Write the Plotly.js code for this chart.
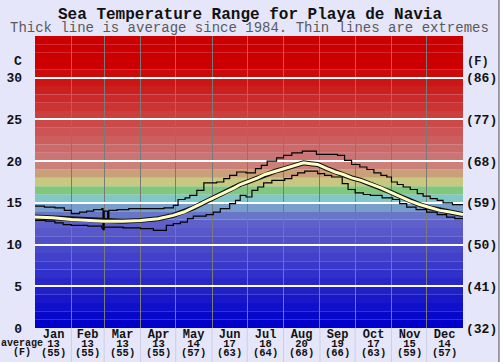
<!DOCTYPE html>
<html><head><meta charset="utf-8">
<script src="https://cdn.plot.ly/plotly-3.0.1.min.js"></script>
<style>html,body{margin:0;padding:0;background:#e6e6fa;}#chart{width:500px;height:362px;}</style>
</head><body><div id="chart"></div>
<script>
// ---- data ----
const months = ['Jan','Feb','Mar','Apr','May','Jun','Jul','Aug','Sep','Oct','Nov','Dec'];
const monthCenters = [15.5,45,74.5,105,135.5,166,196.5,227.5,258,288.5,319,349.5];
const monthStarts = [31,59,90,120,151,181,212,243,273,304,334];
const avgC = [13,13,13,13,14,17,18,20,19,17,15,14];
const avgF = [55,55,55,55,57,63,64,68,66,63,59,57];
const cTicks = [0,5,10,15,20,25,30];
const fTicks = [32,41,50,59,68,77,86];

const maxDays = [0,8,17,25,31,38,44,50,57,58,59,62,63,70,80,90,100,110,118,122,128,132,138,144,150,155,161,166,172,180,188,193,198,206,212,219,228,235,240,250,258,264,270,277,283,289,295,300,304,309,314,320,326,331,337,343,348,356,365];
const maxVals = [14.6,14.5,14.4,14.1,13.7,13.9,14.0,14.2,14.3,12.2,14.0,13.2,14.1,14.2,14.3,14.3,14.3,14.4,14.7,15.4,15.6,15.9,16.5,17.4,17.4,17.5,17.9,18.3,18.7,18.6,19.1,19.5,20.0,20.4,20.7,21.0,21.2,21.2,20.8,20.8,20.7,20.1,19.6,19.3,19.0,18.6,18.3,18.1,17.5,17.2,16.9,16.6,16.1,15.8,15.5,15.3,15.0,14.8,14.7];

const minDays = [0,9,17,24,31,45,57,58,59,75,90,101,112,118,124,130,135,146,152,158,166,171,175,180,185,190,195,202,213,219,224,230,241,247,253,262,267,273,280,286,296,305,311,317,325,334,343,351,358,365];
const minVals = [12.9,12.8,12.6,12.4,12.3,12.2,12.0,11.8,12.1,12.0,11.9,11.7,12.3,12.5,12.7,13.1,13.4,13.6,13.9,14.3,14.9,15.3,15.9,15.7,16.5,16.9,17.4,17.7,17.9,18.3,18.6,18.8,18.5,18.3,18.1,17.3,16.6,16.2,16.0,15.9,15.6,15.4,14.9,14.5,14.2,13.9,13.6,13.3,13.1,13.0];

const avgDays = [0,15,31,45,59,75,90,105,118,127,135,142,149,157,164,170,175,183,190,196,205,213,221,229,235,241,249,256,263,270,278,286,295,303,311,320,328,337,345,354,365];
const avgVals = [13.3,13.2,13.0,12.9,12.8,12.8,12.9,13.1,13.5,13.9,14.4,14.9,15.4,15.9,16.4,16.8,17.2,17.6,18.0,18.4,18.8,19.1,19.5,19.8,19.7,19.6,19.1,18.7,18.4,18.0,17.7,17.3,16.8,16.3,15.8,15.2,14.8,14.4,14.1,13.9,13.6];

// ---- styles ----
const FONT = 'Liberation Mono, DejaVu Sans Mono, monospace';
const INK = '#111';
function bandColor(t){
  if (t <= 12) { const v = Math.round(t*8); return `rgb(${v},${v},202)`; }
  const fixed = {13:'rgb(104,118,202)',14:'rgb(120,158,202)',15:'rgb(128,200,200)',16:'rgb(128,200,128)',17:'rgb(200,200,128)',18:'rgb(202,160,122)',19:'rgb(204,128,122)'};
  if (fixed[t]) return fixed[t];
  const g = Math.max(0, Math.round(115*(31-t)/11));
  return `rgb(204,${g},${g})`;
}
const shapes = [];
for (let t = 0; t < 35; t++) {
  shapes.push({type:'rect', xref:'x', yref:'y', x0:0, x1:365, y0:t, y1:t+1, layer:'below',
    fillcolor: bandColor(t), line:{width:0}});
}
monthStarts.forEach(d => shapes.push({type:'line', xref:'x', yref:'paper', x0:d, x1:d, y0:0, y1:-0.12,
  line:{color:'#cdcde4', width:1}}));
shapes.push({type:'line', xref:'paper', yref:'paper', x0:1.084, x1:1.084, y0:-0.2, y1:1.2, line:{color:'#555', width:1}});

const traces = [
  {x:maxDays, y:maxVals, type:'scatter', mode:'lines', line:{color:'#000', width:1.2, shape:'hv'}, hoverinfo:'skip'},
  {x:minDays, y:minVals, type:'scatter', mode:'lines', line:{color:'#000', width:1.2, shape:'hv'}, hoverinfo:'skip'},
  {x:avgDays, y:avgVals, type:'scatter', mode:'lines', line:{color:'#111', width:5}, hoverinfo:'skip'},
  {x:avgDays, y:avgVals, type:'scatter', mode:'lines', line:{color:'#ffffc4', width:3}, hoverinfo:'skip'},
  {x:[null], y:[null], yaxis:'y2', type:'scatter', mode:'lines', hoverinfo:'skip'}
];

const rowY = r => (328 - r) / 292;   // pixel row -> paper y
const sp = (px, s) => `<span style="font-size:${px}px"><b>${s}</b></span>`;
const annotations = [
  {text:'Thick line is average since 1984. Thin lines are extremes', xref:'paper', yref:'paper', x:0.5, y:1.0274,
   xanchor:'center', yanchor:'middle', showarrow:false, font:{family:FONT, size:14, color:'#5a5a5a'}},
  {text:'<b>C</b>', xref:'paper', yref:'paper', x:-0.04, y:rowY(61), xanchor:'center', yanchor:'middle', showarrow:false, font:{family:FONT, size:13, color:INK}},
  {text:'<b>(F)</b>', xref:'paper', yref:'paper', x:(478-35)/428, y:rowY(62), xanchor:'center', yanchor:'middle', showarrow:false, font:{family:FONT, size:12, color:INK}},
  {text: sp(10,'average') + '<br>' + sp(10,'(F)'), xref:'paper', yref:'paper', x:(22-35)/428, y:rowY(347.5),
   xanchor:'center', yanchor:'middle', showarrow:false, borderpad:0, font:{family:FONT, size:7, color:INK}}
];
months.forEach((m,i) => {
  annotations.push({text: sp(12,m) + '<br>' + sp(10.5, avgC[i]) + '<br>' + sp(10.5, '('+avgF[i]+')'),
    xref:'x', yref:'paper', x:monthCenters[i], y:rowY(343), xanchor:'center', yanchor:'middle',
    showarrow:false, borderpad:0, font:{family:FONT, size:7, color:INK}});
});

const layout = {
  width:500, height:362,
  margin:{l:35, r:37, t:36, b:34, pad:0},
  paper_bgcolor:'#e6e6fa', plot_bgcolor:'rgba(0,0,0,0)',
  showlegend:false,
  title:{text:'<b>Sea Temperature Range for Playa de Navia</b>', font:{family:FONT, size:16, color:INK},
    x:0.5, xref:'container', xanchor:'center', y:1-13/362, yref:'container', yanchor:'middle'},
  xaxis:{range:[0,365], tickmode:'array', tickvals:monthCenters, ticktext:months, showticklabels:false,
    showgrid:false, zeroline:false, showline:false, ticks:'',
    minor:{tickmode:'array', tickvals:monthStarts, showgrid:true, gridcolor:'#7a7a7a', gridwidth:1, ticks:''},
    fixedrange:true},
  yaxis:{range:[0,35], tickmode:'array', tickvals:cTicks, ticktext:cTicks.map(v=>'<b>'+v+'</b>'),
    showgrid:true, gridcolor:'#ffffff', gridwidth:2, zeroline:false, showline:false, ticks:'',
    ticklabelstandoff:12, tickfont:{family:FONT, size:13, color:INK}, fixedrange:true},
  yaxis2:{range:[0,35], overlaying:'y', side:'right', tickmode:'array', tickvals:cTicks,
    ticktext:fTicks.map(v=>'<b>('+v+')</b>'), showgrid:false, zeroline:false, showline:false, ticks:'',
    ticklabelstandoff:2, tickfont:{family:FONT, size:13, color:INK}, fixedrange:true},
  shapes:shapes,
  annotations:annotations
};
Plotly.newPlot('chart', traces, layout, {staticPlot:true, displayModeBar:false});
</script></body></html>
